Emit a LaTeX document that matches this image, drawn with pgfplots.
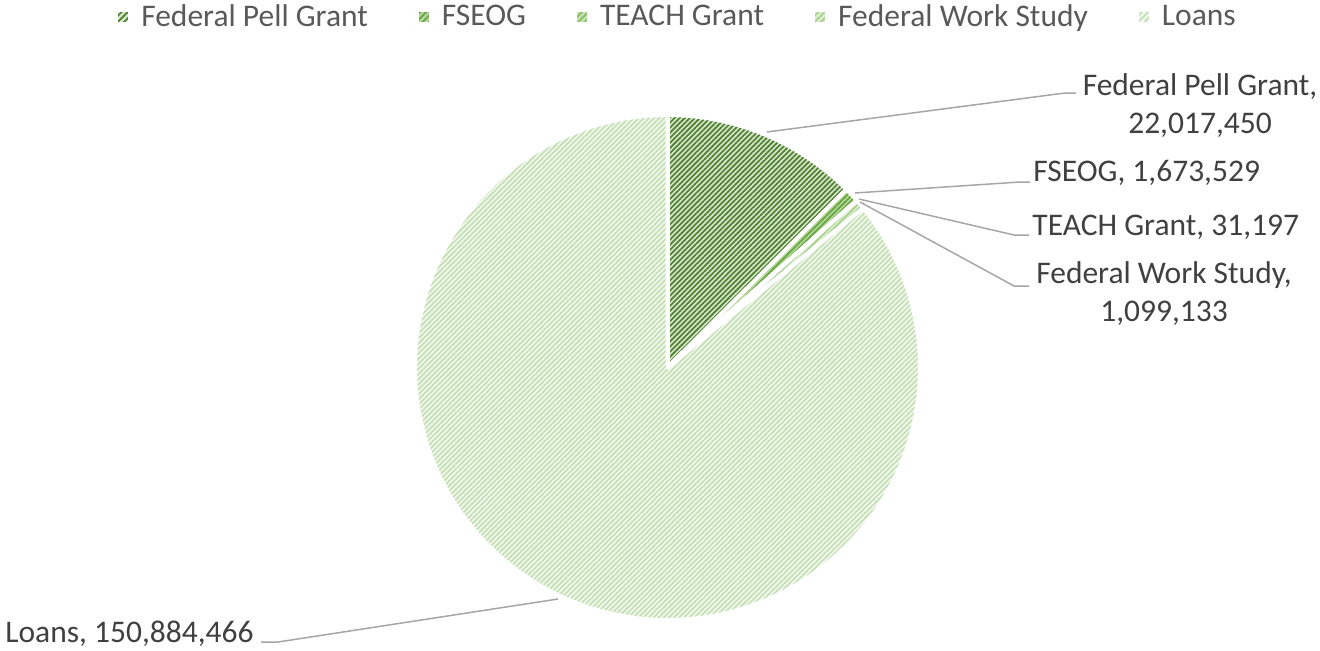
\documentclass[border=0pt]{standalone}
\usepackage{fontspec}
\setmainfont{Carlito}
\usepackage{pgfplots}
\pgfplotsset{compat=1.18}
\usetikzlibrary{patterns.meta}
\definecolor{txt}{HTML}{404040}
\definecolor{legtxt}{HTML}{595959}
\definecolor{lead}{HTML}{A6A6A6}
\definecolor{pellfg}{HTML}{548235}
\definecolor{pellbg}{HTML}{D9EAD0}
\definecolor{fseogfg}{HTML}{6AA63F}
\definecolor{fseogbg}{HTML}{B5D89F}
\definecolor{teachfg}{HTML}{8CC068}
\definecolor{teachbg}{HTML}{C9E3B8}
\definecolor{fwsfg}{HTML}{A9D18E}
\definecolor{fwsbg}{HTML}{DCEED0}
\definecolor{loanfg}{HTML}{C5E0B4}
\definecolor{loanbg}{HTML}{F4F9F1}
% data (values of the chart)
\def\vPell{22017450}
\def\vFseog{1673529}
\def\vTeach{31197}
\def\vFws{1099133}
\def\vLoans{150884466}
\edef\vTot{\fpeval{\vPell+\vFseog+\vTeach+\vFws+\vLoans}}
\edef\aA{\fpeval{round(90-360*\vPell/\vTot,4)}}
\edef\aB{\fpeval{round(\aA-360*\vFseog/\vTot,4)}}
\edef\aC{\fpeval{round(\aB-360*\vTeach/\vTot,4)}}
\edef\aD{\fpeval{round(\aC-360*\vFws/\vTot,4)}}
\def\cx{667.5}
\def\cy{282.5}
\def\rr{252.5}
\newcommand\lblfont{\fontsize{15.75}{19}\selectfont}
\newcommand\legimg[2]{%
  \fill[#1] (0pt,-3.4pt) rectangle (7pt,3.4pt);
  \fill[pattern={Lines[angle=45,distance=2.2pt,line width=0.9pt]}, pattern color=#2] (0pt,-3.4pt) rectangle (7pt,3.4pt);}
\tikzset{
  slice/.style={draw=white, line width=2pt, line join=round},
  lbl/.style={inner sep=0pt, font=\lblfont, text=txt},
}
\begin{document}
\begin{tikzpicture}
\begin{axis}[
  width=660pt, height=325pt, scale only axis,
  xmin=0, xmax=1320, ymin=0, ymax=650,
  hide axis, clip=false,
  legend columns=5,
  legend style={at={(axis cs:675,633)}, anchor=center, draw=none, fill=none,
    font=\lblfont, text=legtxt, inner sep=0pt,
    nodes={inner sep=0pt},
    /tikz/every odd column/.append style={column sep=4.5pt},
    /tikz/every even column/.append style={column sep=23.5pt}},
]
\addplot[draw=none, forget plot] coordinates {(0,0) (1320,650)};
\addplot[slice, preaction={fill=pellbg}, pattern={Lines[angle=45,distance=1.8pt,line width=0.9pt]}, pattern color=pellfg,
  legend image code/.code={\legimg{pellbg}{pellfg}},
  domain=\aA:90, samples=80] ({\cx+\rr*cos(x)},{\cy+\rr*sin(x)}) -- (axis cs:\cx,\cy) -- cycle;
\addlegendentry{Federal Pell Grant}
\addplot[slice, preaction={fill=fseogbg}, pattern={Lines[angle=45,distance=1.8pt,line width=0.9pt]}, pattern color=fseogfg,
  legend image code/.code={\legimg{fseogbg}{fseogfg}},
  domain=\aB:\aA, samples=10] ({\cx+\rr*cos(x)},{\cy+\rr*sin(x)}) -- (axis cs:\cx,\cy) -- cycle;
\addlegendentry{FSEOG}
\addplot[slice, preaction={fill=teachbg}, pattern={Lines[angle=45,distance=1.8pt,line width=0.9pt]}, pattern color=teachfg,
  legend image code/.code={\legimg{teachbg}{teachfg}},
  domain=\aC:\aB, samples=2] ({\cx+\rr*cos(x)},{\cy+\rr*sin(x)}) -- (axis cs:\cx,\cy) -- cycle;
\addlegendentry{TEACH Grant}
\addplot[slice, preaction={fill=fwsbg}, pattern={Lines[angle=45,distance=1.8pt,line width=0.9pt]}, pattern color=fwsfg,
  legend image code/.code={\legimg{fwsbg}{fwsfg}},
  domain=\aD:\aC, samples=10] ({\cx+\rr*cos(x)},{\cy+\rr*sin(x)}) -- (axis cs:\cx,\cy) -- cycle;
\addlegendentry{Federal Work Study}
\addplot[slice, preaction={fill=loanbg}, pattern={Lines[angle=45,distance=1.8pt,line width=0.9pt]}, pattern color=loanfg,
  legend image code/.code={\legimg{loanbg}{loanfg}},
  domain=-270:\aD, samples=300] ({\cx+\rr*cos(x)},{\cy+\rr*sin(x)}) -- (axis cs:\cx,\cy) -- cycle;
\addlegendentry{Loans}
% leader lines
\addplot[lead, line width=0.75pt, forget plot] coordinates {(767,518) (1065,557) (1076,557)};
\addplot[lead, line width=0.75pt, forget plot] coordinates {(855,457) (1020,468) (1030,468)};
\addplot[lead, line width=0.75pt, forget plot] coordinates {(859,451) (1014,415) (1029,415)};
\addplot[lead, line width=0.75pt, forget plot] coordinates {(860,448) (1014,364) (1029,364)};
\addplot[lead, line width=0.75pt, forget plot] coordinates {(558,51) (278,8) (261,8)};
% data labels
\node[lbl, anchor=base] at (axis cs:1200,555) {Federal Pell Grant,};
\node[lbl, anchor=base] at (axis cs:1200,517) {22,017,450};
\node[lbl, anchor=base west] at (axis cs:1033,469) {FSEOG, 1,673,529};
\node[lbl, anchor=base west] at (axis cs:1032,415) {TEACH Grant, 31,197};
\node[lbl, anchor=base] at (axis cs:1164,367) {Federal Work Study,};
\node[lbl, anchor=base] at (axis cs:1164,329) {1,099,133};
\node[lbl, anchor=base west] at (axis cs:5,8) {Loans, 150,884,466};
\end{axis}
\end{tikzpicture}
\end{document}
